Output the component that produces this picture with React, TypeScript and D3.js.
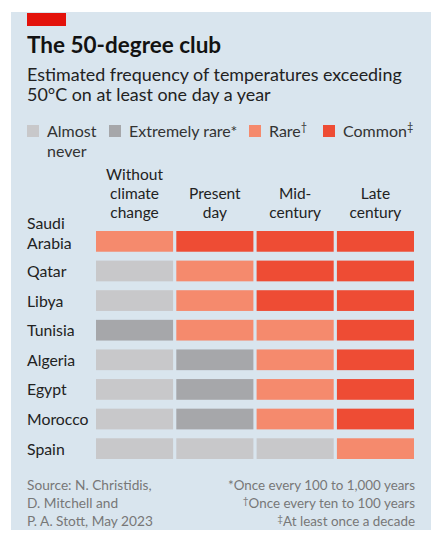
import React from "react";
import * as d3 from "d3";

const countries = ["Saudi Arabia", "Qatar", "Libya", "Tunisia", "Algeria", "Egypt", "Morocco", "Spain"];
const periods = ["Without climate change", "Present day", "Mid-century", "Late century"];
const periodLines = [["Without", "climate", "change"], ["Present", "day"], ["Mid-", "century"], ["Late", "century"]];
const categories = ["Almost never", "Extremely rare", "Rare", "Common"];
// category index per country per period
const frequency = [
  [2, 3, 3, 3],
  [0, 2, 3, 3],
  [0, 2, 3, 3],
  [1, 2, 2, 3],
  [0, 1, 2, 3],
  [0, 1, 2, 3],
  [0, 1, 2, 3],
  [0, 0, 0, 2],
];
const footnotes = [
  { mark: "*", text: "Once every 100 to 1,000 years" },
  { mark: "†", text: "Once every ten to 100 years" },
  { mark: "‡", text: "At least once a decade" },
];
const sourceLines = ["Source: N. Christidis,", "D. Mitchell and", "P. A. Stott, May 2023"];

const W = 441;
const H = 537;
const FONT = "Lato, 'Open Sans', sans-serif";
const BG = "#d9e5ee";
const colors = ["#c8c8ca", "#a6a7aa", "#f58a6d", "#ee4c34"];

export default function App() {
  const x = d3.scaleBand<string>().domain(periods).range([96, 414]).paddingInner(0.04);
  const y = d3.scaleBand<string>().domain(countries).range([231, 459]).paddingInner(0.3);
  const color = d3.scaleOrdinal<number, string>().domain([0, 1, 2, 3]).range(colors);

  const legendItems = [
    { x: 27, lines: ["Almost", "never"], sup: "" },
    { x: 109, lines: ["Extremely rare*"], sup: "" },
    { x: 249, lines: ["Rare"], sup: "†" },
    { x: 323, lines: ["Common"], sup: "‡" },
  ];

  return (
    <div style={{ position: "absolute", left: 0, top: 0 }}>
      <svg width={W} height={H} style={{ display: "block", background: "#fff" }}>
        <rect x={11} y={12} width={420} height={518} fill={BG} />
        <rect x={27} y={13} width={39} height={13} fill="#e3120b" />
        <text x={27} y={53} fontFamily={FONT} fontWeight={700} fontSize={22.5} fill="#121212">
          The 50-degree club
        </text>
        <text fontFamily={FONT} fontSize={17.9} fill="#222">
          <tspan x={27} y={81}>Estimated frequency of temperatures exceeding</tspan>
          <tspan x={27} y={101}>50°C on at least one day a year</tspan>
        </text>

        {legendItems.map((it, i) => (
          <g key={categories[i]}>
            <rect x={it.x} y={125} width={12} height={12} fill={colors[i]} />
            <text fontFamily={FONT} fontSize={16} fill="#333">
              {it.lines.map((l, j) => (
                <tspan key={j} x={it.x + 20} y={137 + j * 20}>{l}</tspan>
              ))}
              {it.sup ? (
                <tspan fontSize={11} dy={-6}>{it.sup}</tspan>
              ) : null}
            </text>
          </g>
        ))}

        {periods.map((p, i) => {
          const lines = periodLines[i];
          const cx = (x(p) as number) + x.bandwidth() / 2;
          return (
            <text key={p} textAnchor="middle" fontFamily={FONT} fontSize={15.5} fill="#222">
              {lines.map((l, j) => (
                <tspan key={j} x={cx} y={218 - (lines.length - 1 - j) * 19}>{l}</tspan>
              ))}
            </text>
          );
        })}

        {countries.map((c, r) => {
          const y0 = y(c) as number;
          const cy = y0 + y.bandwidth() / 2;
          const words = c === "Saudi Arabia" ? ["Saudi", "Arabia"] : [c];
          return (
            <g key={c}>
              <text fontFamily={FONT} fontSize={15.8} fill="#222">
                {words.map((w, j) => (
                  <tspan key={j} x={27} y={words.length > 1 ? cy + 8 - (words.length - 1 - j) * 20 : cy + 6}>{w}</tspan>
                ))}
              </text>
              {periods.map((p, k) => (
                <rect
                  key={p}
                  x={x(p)}
                  y={y0}
                  width={x.bandwidth()}
                  height={y.bandwidth()}
                  fill={color(frequency[r][k])}
                />
              ))}
            </g>
          );
        })}

        <text fontFamily={FONT} fontSize={13.7} fill="#777">
          {sourceLines.map((l, j) => (
            <tspan key={j} x={27} y={490 + j * 18}>{l}</tspan>
          ))}
        </text>
        {footnotes.map((f, j) => (
          <text key={j} x={415} y={490 + j * 18} textAnchor="end" fontFamily={FONT} fontSize={13.4} fill="#777">
            <tspan fontSize={f.mark === "*" ? 13.4 : 10} dy={f.mark === "*" ? 0 : -4}>{f.mark}</tspan>
            <tspan dy={f.mark === "*" ? 0 : 4}>{f.text}</tspan>
          </text>
        ))}
      </svg>
    </div>
  );
}
